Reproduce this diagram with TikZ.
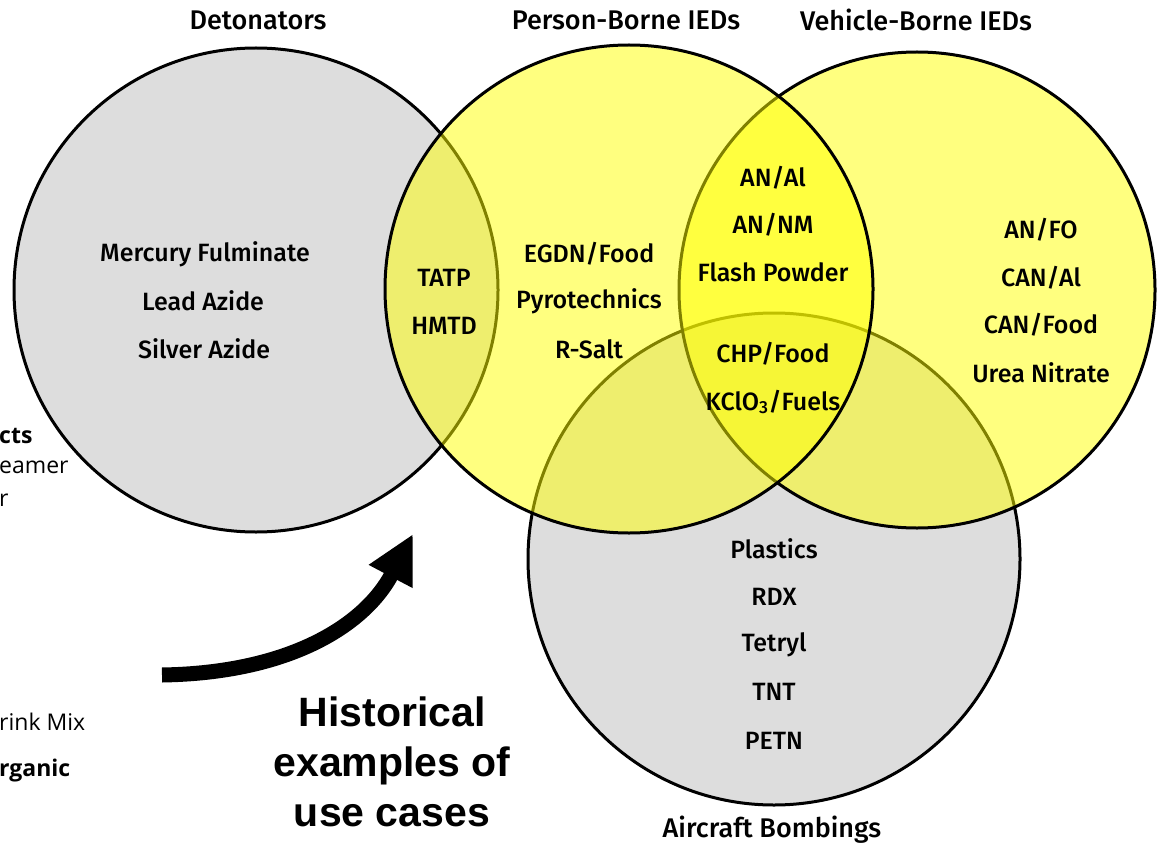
\documentclass[tikz,border=0pt]{standalone}
\usepackage{fontspec}
\setmainfont{Fira Sans}
\newfontfamily\lblfont{Fira Sans Medium}
\newfontfamily\capfont{Liberation Sans}
\newfontfamily\sidefont{Open Sans}
\usetikzlibrary{arrows.meta}

\definecolor{setgray}{HTML}{DDDDDD}
\definecolor{setyellow}{HTML}{FFFF00}

\tikzset{
  setcircle/.style={draw=black, line width=3pt},
  greyset/.style={setcircle, fill=setgray},
  yellowset/.style={setcircle, fill=setyellow, fill opacity=0.5},
  item/.style={font=\lblfont\fontsize{25}{30}\selectfont, inner sep=0pt},
  settitle/.style={font=\lblfont\fontsize{27}{32}\selectfont, inner sep=0pt},
  side/.style={anchor=west, inner sep=0pt, font=\sidefont\fontsize{23}{27}\selectfont},
  sidebold/.style={side, font=\sidefont\bfseries\fontsize{23}{27}\selectfont},
}

\begin{document}
\begin{tikzpicture}[x=1pt, y=-1pt]
  \useasboundingbox (0,0) rectangle (1159,845);

  % Sets (drawing order gives the overlaps)
  \draw[greyset]   (256,290) circle (242pt);
  \draw[greyset]   (774,559) circle (246pt);
  \draw[yellowset] (917,290) circle (238pt);
  \draw[yellowset] (629,289) circle (244pt);

  % Set titles
  \node[settitle] (dettitle) at (258,20)  {Detonators};
  \node[settitle] (pbtitle)  at (626,20)  {Person-Borne IEDs};
  \node[settitle] (vbtitle)  at (916,20)  {Vehicle-Borne IEDs};
  \node[settitle] (airtitle) at (772,830) {Aircraft Bombings};

  % Detonators
  \node[item] (merc) at (205,254) {Mercury Fulminate};
  \node[item] (lead) at (203,301) {Lead Azide};
  \node[item] (silv) at (204,349) {Silver Azide};

  % Detonators / Person-Borne
  \node[item] (tatp) at (444,278) {TATP};
  \node[item] (hmtd) at (444,326) {HMTD};

  % Person-Borne
  \node[item] (egdn) at (589,254) {EGDN/Food};
  \node[item] (pyro) at (589,301) {Pyrotechnics};
  \node[item] (rsalt) at (589,349) {R-Salt};

  % Person-Borne / Vehicle-Borne
  \node[item] (anal)  at (773,178) {AN/Al};
  \node[item] (annm)  at (773,225) {AN/NM};
  \node[item] (flash) at (773,272) {Flash Powder};
  \node[item] (chp)   at (773,354) {CHP/Food};
  \node[item] (kclo)  at (773,402) {KClO\textsubscript{3}/Fuels};

  % Vehicle-Borne
  \node[item] (anfo)  at (1041,230) {AN/FO};
  \node[item] (canal) at (1041,278) {CAN/Al};
  \node[item] (canfd) at (1041,325) {CAN/Food};
  \node[item] (urea)  at (1041,373) {Urea Nitrate};

  % Aircraft Bombings
  \node[item] (plast) at (774,549) {Plastics};
  \node[item] (rdx)   at (774,597) {RDX};
  \node[item] (tetr)  at (774,645) {Tetryl};
  \node[item] (tnt)   at (774,692) {TNT};
  \node[item] (petn)  at (774,741) {PETN};

  % cut-off text at the left edge
  \node[sidebold] (cutcts) at (-1,436) {cts};
  \node[side] (cuteamer) at (-1,467) {eamer};
  \node[side] (cutr)     at (-1,500) {r};
  \node[side] (cutmix)   at (-1,722) {rink Mix};
  \node[sidebold] (cutorg) at (-1,771) {rganic};

  % Arrow and caption
  \coordinate (arrowtail) at (162,675);
  \coordinate (arrowtip)  at (413,534);
  \draw[line width=15pt, -{Triangle[length=48pt, width=46pt]}]
    (arrowtail) .. controls (290,673) and (365,625) .. (arrowtip);

  \node[align=center, inner sep=0pt, font=\capfont\bfseries\fontsize{41}{50}\selectfont]
    (histnote) at (392,762) {Historical\\examples of\\use cases};
\end{tikzpicture}
\end{document}
